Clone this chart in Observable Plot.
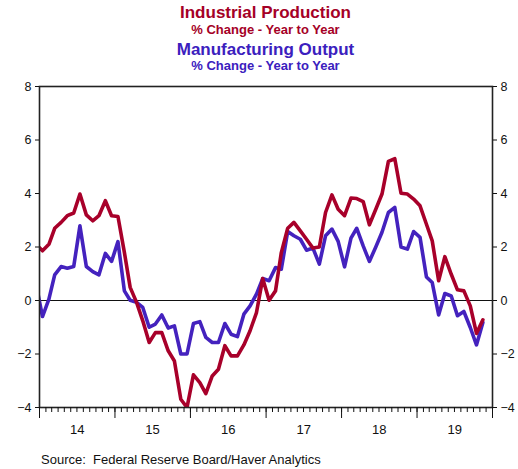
<!DOCTYPE html>
<html><head><meta charset="utf-8">
<script src="https://cdn.jsdelivr.net/npm/d3@7"></script>
<script src="https://cdn.jsdelivr.net/npm/@observablehq/plot@0.6"></script>
<style>
body{margin:0;background:#fff;}
#wrap{position:relative;width:518px;height:469px;overflow:hidden;font-family:Arial,"Liberation Sans",sans-serif;}
.t{position:absolute;left:0;width:531px;text-align:center;font-weight:bold;line-height:0.8;white-space:nowrap;}
#src{position:absolute;left:41px;top:453px;font-size:13px;line-height:1;color:#111;white-space:pre;}
#chart{position:absolute;left:0;top:0;}
</style></head>
<body>
<div id="wrap">
  <div id="chart"></div>
  <div class="t" style="top:6.2px;font-size:17px;color:#A50026;">Industrial Production</div>
  <div class="t" style="top:24.7px;font-size:13px;color:#A50026;">% Change - Year to Year</div>
  <div class="t" style="top:42.8px;font-size:17px;color:#3B20BE;">Manufacturing Output</div>
  <div class="t" style="top:61.3px;font-size:13px;color:#3B20BE;">% Change - Year to Year</div>
  <div id="src">Source:  Federal Reserve Board/Haver Analytics</div>
</div>
<script>
// Monthly values, Dec 2013 through Nov 2019 (first point is clipped at the left edge)
const firstYear = 2013, firstMonth = 11; // December 2013 (0-based month)
const industrialProduction = [
  2.1,
  1.86, 2.1, 2.7, 2.92, 3.17, 3.27, 3.98, 3.2, 2.98, 3.17, 3.73, 3.17,
  3.14, 1.8, 0.49, -0.07, -0.76, -1.57, -1.2, -1.2, -1.88, -2.26, -3.69, -4.0,
  -2.78, -3.07, -3.48, -2.82, -2.57, -1.69, -2.07, -2.07, -1.66, -1.13, -0.45, 0.82,
  0.01, 0.36, 1.79, 2.7, 2.92, 2.6, 2.29, 1.96, 2.0, 3.29, 3.95, 3.41,
  3.17, 3.83, 3.81, 3.7, 2.83, 3.41, 3.98, 5.2, 5.3, 4.01, 3.98, 3.79,
  3.54, 2.85, 2.23, 0.74, 1.64, 0.98, 0.4, 0.36, -0.2, -1.23, -0.72
];
const manufacturingOutput = [
  0.6,
  -0.6, 0.05, 0.96, 1.27, 1.21, 1.27, 2.79, 1.27, 1.08, 0.96, 1.76, 1.46,
  2.2, 0.36, 0.01, -0.07, -0.26, -1.0, -0.88, -0.54, -1.03, -0.95, -2.0, -2.0,
  -0.86, -0.79, -1.38, -1.57, -1.57, -0.86, -1.26, -1.35, -0.51, -0.2, 0.24, 0.82,
  0.74, 1.23, 1.17, 2.58, 2.42, 2.29, 1.88, 1.96, 1.36, 2.42, 2.67, 2.21,
  1.26, 2.33, 2.7, 2.04, 1.46, 2.0, 2.55, 3.29, 3.48, 2.0, 1.92, 2.58,
  2.36, 0.88, 0.67, -0.54, 0.26, 0.17, -0.57, -0.41, -1.01, -1.66, -0.82
];
const yTicks = [-4, -2, 0, 2, 4, 6, 8];
const years = [2014, 2015, 2016, 2017, 2018, 2019];
const yearLabels = ["14", "15", "16", "17", "18", "19"];

const RED = "#A8002A", BLUE = "#4422BE";

const data = industrialProduction.map((v, i) => ({
  date: new Date(Date.UTC(firstYear, firstMonth + i, 15, 12)),
  ip: v,
  mfg: manufacturingOutput[i]
}));

const monthTicks = d3.utcMonths(new Date(Date.UTC(2014, 0, 1)), new Date(Date.UTC(2020, 0, 2)));
const yearTicks = years.map(y => new Date(Date.UTC(y, 0, 1))).concat([new Date(Date.UTC(2020, 0, 1))]);
const midYears = years.map(y => new Date(Date.UTC(y, 6, 2)));

const chart = Plot.plot({
  width: 518,
  height: 469,
  marginTop: 86,
  marginLeft: 39,
  marginRight: 26,
  marginBottom: 62,
  style: {fontFamily: 'Arial, "Liberation Sans", sans-serif', fontSize: "12.5px", color: "#111", background: "transparent"},
  x: {type: "utc", domain: [new Date(Date.UTC(2014, 0, 1)), new Date(Date.UTC(2020, 0, 1))], label: null},
  y: {domain: [-4, 8], label: null},
  marks: [
    Plot.ruleY([0], {stroke: "#111", strokeWidth: 1.2}),
    Plot.line(data, {x: "date", y: "mfg", stroke: BLUE, strokeWidth: 3.6, clip: true}),
    Plot.line(data, {x: "date", y: "ip", stroke: RED, strokeWidth: 3.6, clip: true}),
    Plot.frame({stroke: "#222", strokeWidth: 1.6}),
    Plot.axisY({anchor: "left", ticks: yTicks, tickSize: 4, tickPadding: 4, label: null}),
    Plot.axisY({anchor: "right", ticks: yTicks, tickSize: 4, tickPadding: 4, label: null}),
    Plot.axisX({ticks: monthTicks, tickSize: 5, tickFormat: () => "", label: null}),
    Plot.axisX({ticks: yearTicks, tickSize: 11, tickFormat: () => "", label: null}),
    Plot.axisX({ticks: midYears, tickSize: 0, tickPadding: 17, fontSize: 13,
      tickFormat: d => yearLabels[d.getUTCFullYear() - 2014], label: null})
  ]
});
document.getElementById("chart").appendChild(chart);
</script>
</body></html>
